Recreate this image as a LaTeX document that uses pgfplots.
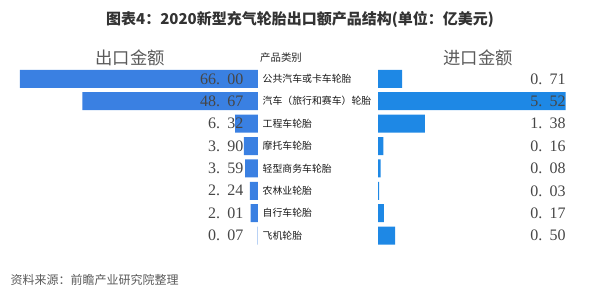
\documentclass[border=0pt]{standalone}
\usepackage{pgfplots}
\pgfplotsset{compat=1.18}
\usepackage{pgfplotstable}
\usepackage{fontspec}
\setmainfont{Noto Sans CJK SC}
\newfontfamily\numfont{Liberation Serif}
\definecolor{leftbar}{RGB}{58,128,226}
\definecolor{rightbar}{RGB}{30,136,229}
\definecolor{numcol}{RGB}{70,70,70}
\definecolor{hdrcol}{RGB}{90,90,90}

\pgfplotstableread{
idx exp imp
0 66.00 0.71
1 48.67 5.52
2 6.32 1.38
3 3.90 0.16
4 3.59 0.08
5 2.24 0.03
6 2.01 0.17
7 0.07 0.50
}\datatable

\pgfplotsset{
  tworow/.style={
    scale only axis, height=134.4pt,
    ymin=-0.5, ymax=7.5, y dir=reverse,
    enlargelimits=false, clip=false,
    axis line style={draw=none},
    tick style={draw=none},
    xtick=\empty,
  },
  numlabels/.style={
    draw=none, mark=none,
    nodes near coords={\fontsize{12pt}{14pt}\numfont\color{numcol}\pgfmathprintnumber[fixed,fixed zerofill,precision=2,set decimal separator={.\hspace{0.45em}},assume math mode=true]{\pgfplotspointmeta}},
    point meta=explicit,
  },
}

\begin{document}
\begin{tikzpicture}
\path[use as bounding box] (0,0) rectangle (450pt,-225pt);

% title
\node[font=\bfseries\fontsize{11.25pt}{13pt}\selectfont, text=black!80] at (225pt,-14.25pt) {图表4：2020新型充气轮胎出口额产品结构(单位：亿美元)};
% headers
\node[font=\fontsize{13pt}{15pt}\selectfont, text=hdrcol] at (97.5pt,-43.5pt) {出口金额};
\node[font=\fontsize{7.8pt}{9pt}\selectfont, text=black!85] at (210.75pt,-43.5pt) {产品类别};
\node[font=\fontsize{13pt}{15pt}\selectfont, text=hdrcol] at (358.5pt,-43.5pt) {进口金额};
% footer
\node[anchor=west, font=\fontsize{9pt}{11pt}\selectfont, text=hdrcol] at (4.5pt,-210pt) {资料来源：前瞻产业研究院整理};

% left axis: export
\begin{axis}[tworow,
  at={(15pt,-50.7pt)}, anchor=north west,
  width=178.5pt,
  xmin=0, xmax=66, x dir=reverse,
  ytick={0,...,7},
  yticklabel pos=right,
  yticklabels={公共汽车或卡车轮胎,汽车（旅行和赛车）轮胎,工程车轮胎,摩托车轮胎,轻型商务车轮胎,农林业轮胎,自行车轮胎,飞机轮胎},
  yticklabel style={anchor=west, xshift=0pt, font=\fontsize{7.4pt}{9pt}\selectfont, text=black!90},
]
\addplot[xbar, bar width=13.5pt, fill=leftbar, draw=none] table[x=exp, y=idx] {\datatable};
\addplot[numlabels, every node near coord/.append style={anchor=east, xshift=-7.5pt}]
  table[x expr=0, y=idx, meta=exp] {\datatable};
\end{axis}

% right axis: import
\begin{axis}[tworow,
  at={(283.5pt,-50.7pt)}, anchor=north west,
  width=140.8pt,
  xmin=0, xmax=5.52,
  ytick=\empty,
]
\addplot[xbar, bar width=13.5pt, fill=rightbar, draw=none] table[x=imp, y=idx] {\datatable};
\addplot[numlabels, every node near coord/.append style={anchor=east, xshift=3.5pt}]
  table[x expr=5.52, y=idx, meta=imp] {\datatable};
\end{axis}
\end{tikzpicture}
\end{document}
